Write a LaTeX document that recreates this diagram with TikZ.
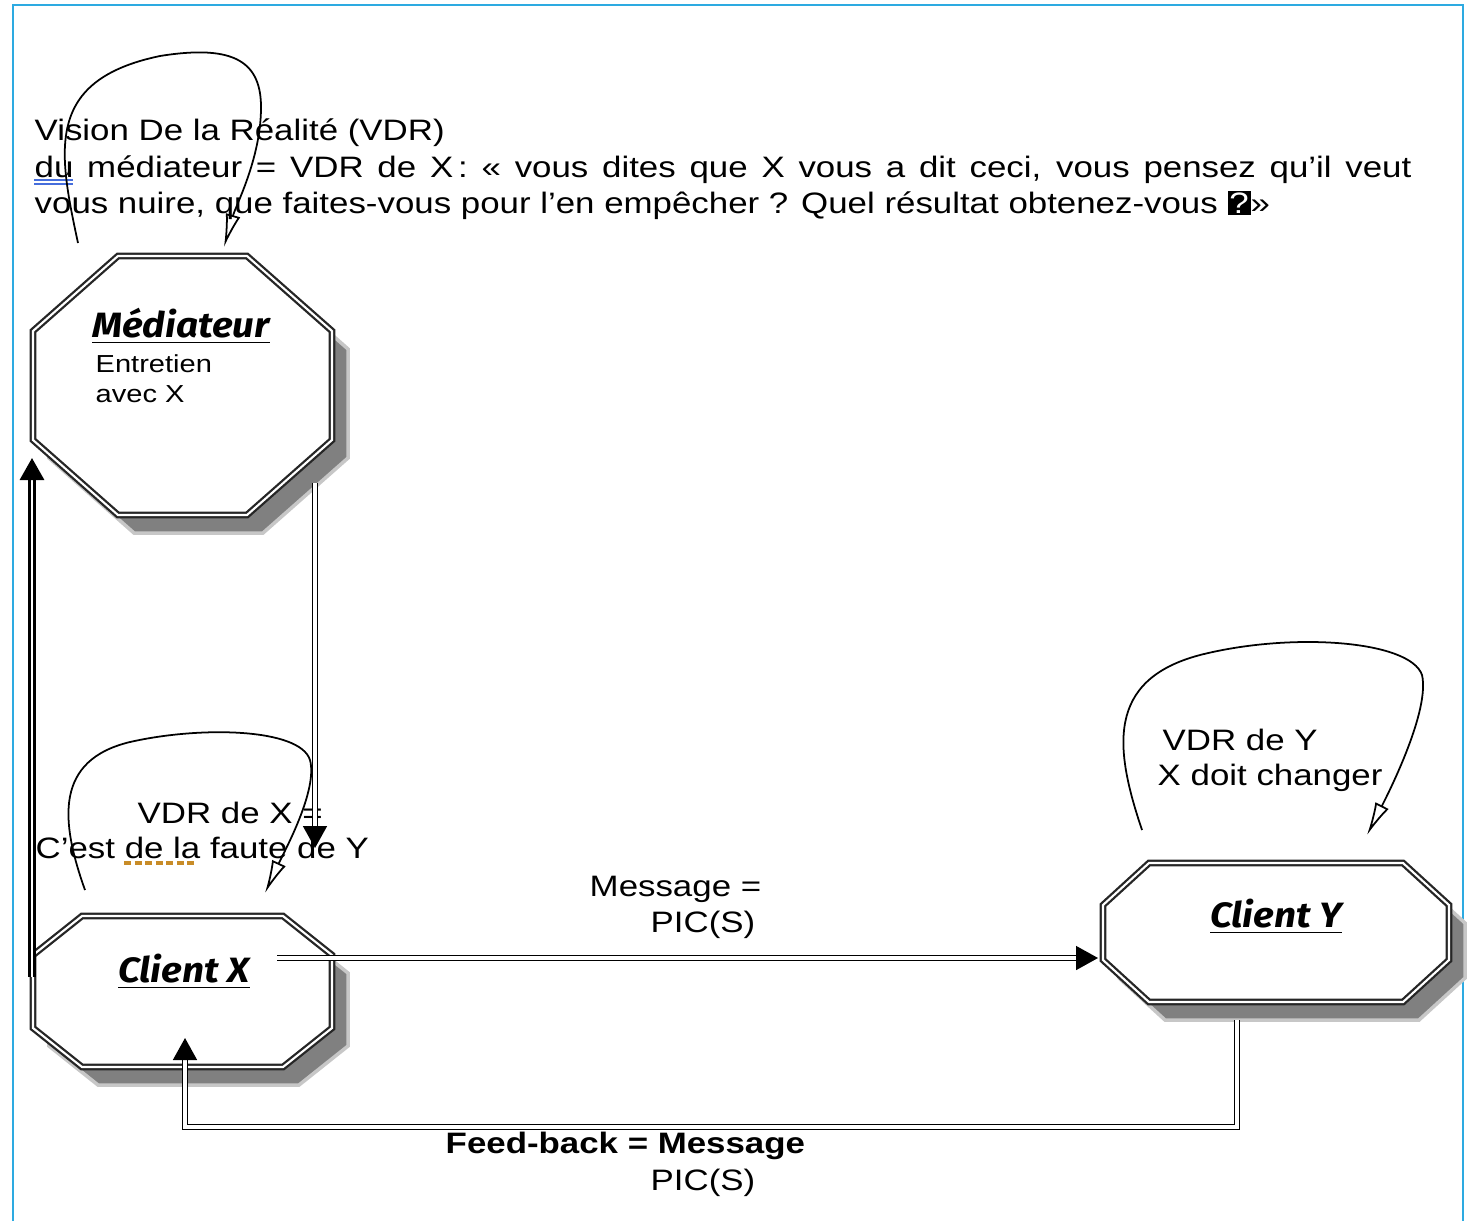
\documentclass[tikz,border=0pt]{standalone}
\usepackage{fontspec}
\setmainfont{Liberation Sans}[FakeStretch=1.18]
\newfontfamily\comicfont{Fira Sans}[FakeStretch=1.1]
\usetikzlibrary{arrows.meta}
\definecolor{framecol}{RGB}{45,170,225}
\definecolor{spellblue}{RGB}{70,110,220}
\definecolor{spellorange}{RGB}{200,140,40}
% octagon: left, top, right, bottom, cut x, cut y
\newcommand\octo[6]{%
  \filldraw[octoshadow, shift={(16,18)}] ({#1+#5},#2) -- ({#3-#5},#2) -- (#3,{#2+#6}) -- (#3,{#4-#6}) -- ({#3-#5},#4) -- ({#1+#5},#4) -- (#1,{#4-#6}) -- (#1,{#2+#6}) -- cycle;
  \filldraw[octoline] ({#1+#5},#2) -- ({#3-#5},#2) -- (#3,{#2+#6}) -- (#3,{#4-#6}) -- ({#3-#5},#4) -- ({#1+#5},#4) -- (#1,{#4-#6}) -- (#1,{#2+#6}) -- cycle;}
\begin{document}
\begin{tikzpicture}[x=0.01cm, y=-0.01cm, font=\fontsize{8.4}{10.5}\selectfont,
  octoline/.style={fill=white, draw=black!85, double, line width=0.65pt, double distance=0.6pt},
  octoshadow/.style={fill=black!50, draw=black!22, line width=1pt},
  dbl/.style={draw, double, line width=0.45pt, double distance=1pt, -{Triangle[length=0.22cm, width=0.24cm]}},
  loopy/.style={line width=0.5pt, -{Latex[open, length=0.33cm, width=0.15cm]}},
  lab/.style={inner sep=0pt, anchor=base west},
  small/.style={lab, font=\fontsize{7}{8.5}\selectfont},
  who/.style={inner sep=0pt, anchor=base, font=\comicfont\bfseries\itshape\fontsize{10}{12}\selectfont}]
\useasboundingbox (0,0) rectangle (1471,1221);
\draw[framecol, line width=0.6pt] (13,1221) -- (13,5) -- (1463,5) -- (1463,1221);

% header text
\node[lab] (vdr1) at (34,140) {Vision De la Réalité (VDR)};
\node[lab] (vdr2) at (34,177) {\makebox[13.76cm][s]{du médiateur = VDR de X\,: « vous dites que X vous a dit ceci, vous pensez qu’il veut}};
\node[lab] (vdr3) at (34,213) {vous nuire, que faites-vous pour l’en empêcher ? Quel résultat obtenez-vous {\fboxsep=0.5pt\colorbox{black}{\textcolor{white}{?}}}»};
\draw[spellblue, line width=0.5pt] (34,180) -- (73,180) (34,184) -- (73,184);

% octagons
\octo{33}{256}{332}{515}{85}{75}
\octo{33}{916}{332}{1067}{49}{39}
\octo{1103}{863}{1449}{1002}{46}{42}

\node[who] (medlab) at (181,337) {\underline{Médiateur}};
\foreach \y/\txt in {372/Entretien, 402/avec X} {\node[small] (ent\y) at (95,\y) {\txt};}
\node[who] (cxlab) at (184,982) {\underline{Client X}};
\node[who] (cylab) at (1276,927) {\underline{Client Y}};

% loop labels
\node[lab] (vdrx1) at (137,823) {VDR de X =};
\node[lab] (vdrx2) at (35,858) {C’est de la faute de Y};
\draw[spellorange, line width=1pt, dash pattern=on 2pt off 1pt] (124,863) -- (197,863);
\node[lab] (vdry1) at (1162,750) {VDR de Y};
\node[lab] (vdry2) at (1157,785) {X doit changer};

% self loops
\coordinate (medA) at (78,243);
\coordinate (medB) at (224,247);
\coordinate (cxA) at (85,890);
\coordinate (cxB) at (265,893);
\coordinate (cyA) at (1142,830);
\coordinate (cyB) at (1367,835);
\draw[loopy] (medA) .. controls (58,150) and (45,80) .. (160,56) .. controls (235,44) and (262,62) .. (261,110) .. controls (260,160) and (236,205) .. (medB);
\draw[loopy] (cxA) .. controls (60,820) and (55,760) .. (130,742) .. controls (200,726) and (300,728) .. (310,760) .. controls (318,790) and (285,850) .. (cxB);
\draw[loopy] (cyA) .. controls (1115,750) and (1105,680) .. (1200,655) .. controls (1290,632) and (1410,640) .. (1422,675) .. controls (1430,710) and (1390,790) .. (cyB);

% messages
\coordinate (cxup) at (32,977);
\coordinate (medin) at (32,458);
\coordinate (medout) at (315,483);
\coordinate (cxin) at (315,848);
\coordinate (cxout) at (277,958);
\coordinate (cyin) at (1098,958);
\coordinate (cyout) at (1237,1020);
\coordinate (cxback) at (185,1038);
\draw[dbl, line width=0.9pt, double distance=0.3pt] (cxup) -- (medin);
\draw[dbl] (medout) -- (cxin);
\draw[dbl] (cxout) -- (cyin);
\draw[dbl] (cyout) -- (1237,1127) -- (185,1127) -- (cxback);

\node[lab] (msg1) at (589,896) {Message =};
\node[lab] (msg2) at (650,932) {PIC(S)};
\node[lab, font=\fontsize{8.4}{10.5}\selectfont\bfseries] (fb1) at (445,1153) {Feed-back = Message};
\node[lab] (fb2) at (650,1190) {PIC(S)};
\end{tikzpicture}
\end{document}
